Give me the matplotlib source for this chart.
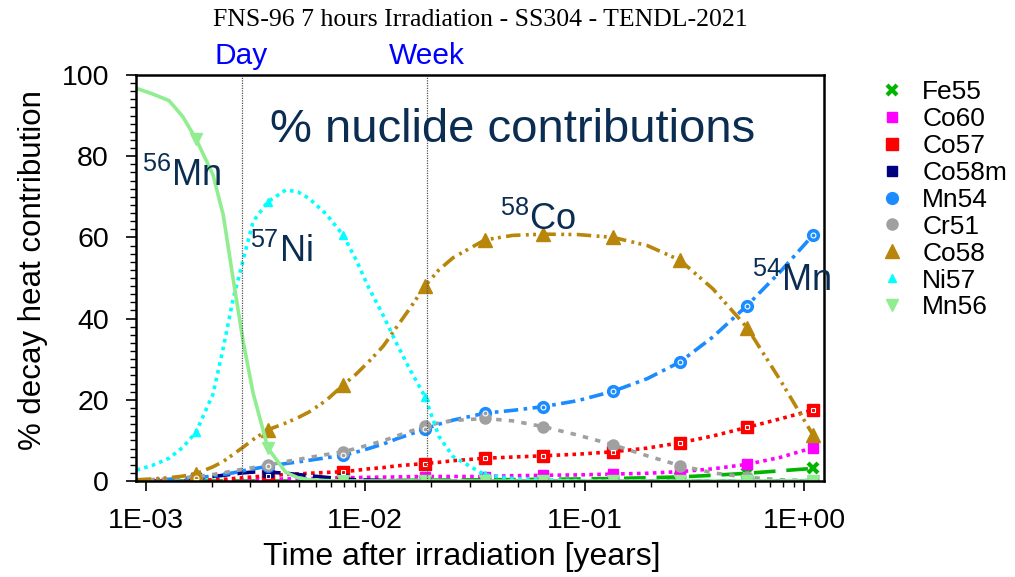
import matplotlib
matplotlib.use('Agg')
import matplotlib.pyplot as plt
from matplotlib.lines import Line2D
from matplotlib.ticker import LogLocator, MultipleLocator, FixedLocator
import numpy as np

plt.rcParams['font.family'] = ['Liberation Sans', 'DejaVu Sans']
plt.rcParams['mathtext.fontset'] = 'custom'
plt.rcParams['mathtext.rm'] = 'Liberation Sans'
plt.rcParams['mathtext.it'] = 'Liberation Sans:italic'

# cooling time grid [years]
times = [9.1e-4, 1.07e-3, 1.28e-3, 1.48e-3, 1.70e-3, 2.03e-3, 2.26e-3, 2.50e-3,
         2.78e-3, 3.09e-3, 3.61e-3, 4.36e-3, 4.95e-3, 5.56e-3, 6.64e-3, 7.94e-3,
         9.1e-3, 1.04e-2, 1.21e-2, 1.38e-2, 1.60e-2, 1.875e-2, 2.17e-2, 2.52e-2,
         3.52e-2, 4.72e-2, 6.47e-2, 9.33e-2, 0.135, 0.193, 0.272, 0.385, 0.550,
         0.778, 1.10]
# indices of the time steps that carry markers
marker_idx = [4, 10, 15, 21, 24, 26, 28, 30, 32, 34]

fe55 = [0.0, 0.0, 0.0, 0.0, 0.0, 0.0, 0.0, 0.0, 0.0, 0.0, 0.0, 0.0, 0.0, 0.0, 0.0,
        0.05, 0.07, 0.1, 0.12, 0.15, 0.18, 0.2, 0.22, 0.25, 0.3,
        0.35, 0.4, 0.5, 0.6, 0.8, 1.0, 1.4, 1.9, 2.5, 3.1]
co60 = [0.0, 0.02, 0.05, 0.08, 0.1, 0.15, 0.2, 0.25, 0.3, 0.35, 0.4, 0.5, 0.55, 0.6, 0.7,
        0.8, 0.85, 0.9, 0.95, 1.0, 1.05, 1.1, 1.1, 1.1, 1.1,
        1.3, 1.4, 1.5, 1.7, 1.9, 2.3, 3.0, 4.1, 5.8, 8.2]
co57 = [0.0, 0.02, 0.05, 0.08, 0.1, 0.3, 0.4, 0.6, 0.8, 1.0, 1.3, 1.6, 1.75, 1.9, 2.1,
        2.3, 2.6, 3.0, 3.3, 3.7, 4.0, 4.3, 4.6, 5.0, 5.6,
        5.9, 6.2, 6.6, 7.2, 8.1, 9.4, 11.1, 13.2, 15.3, 17.5]
co58m = [0.1, 0.2, 0.3, 0.5, 0.7, 1.1, 1.4, 1.7, 2.0, 2.2, 2.2, 1.9, 1.6, 1.3, 0.9,
         0.5, 0.3, 0.2, 0.1, 0.05, 0.02, 0.0, 0.0, 0.0, 0.0,
         0.0, 0.0, 0.0, 0.0, 0.0, 0.0, 0.0, 0.0, 0.0, 0.0]
mn54 = [0.2, 0.3, 0.4, 0.6, 0.8, 1.2, 1.6, 2.0, 2.5, 3.0, 3.6, 4.3, 4.7, 5.1, 5.7,
        6.3, 7.1, 8.0, 9.1, 10.3, 11.5, 12.8, 14.0, 15.0, 16.7,
        17.4, 18.3, 19.8, 22.1, 25.2, 29.3, 35.5, 43.2, 51.5, 60.6]
cr51 = [0.2, 0.35, 0.5, 0.8, 1.1, 1.6, 2.0, 2.5, 2.9, 3.3, 3.9, 4.8, 5.3, 5.8, 6.5,
        7.2, 8.0, 8.9, 9.9, 11.0, 12.2, 13.5, 14.3, 14.9, 15.4,
        14.8, 13.4, 11.3, 8.9, 6.2, 3.8, 2.0, 0.9, 0.3, 0.1]
co58 = [0.3, 0.5, 0.8, 1.2, 1.8, 3.5, 4.8, 6.5, 8.3, 10.2, 12.6, 14.3, 15.6, 17.0, 19.8,
        23.6, 26.3, 29.4, 33.2, 37.6, 42.5, 48.0, 52.0, 55.0, 59.4,
        60.5, 60.8, 60.7, 60.0, 58.0, 54.4, 47.3, 37.8, 24.9, 11.3]
ni57 = [2.7, 3.8, 5.6, 8.3, 12.1, 21.4, 32.8, 44.5, 54.3, 63.9, 68.8, 71.7, 71.2, 69.6, 65.8,
        60.6, 54.5, 47.6, 40.8, 34.3, 27.5, 20.8, 11.0, 6.0, 1.5,
        0.6, 0.3, 0.1, 0.0, 0.0, 0.0, 0.0, 0.0, 0.0, 0.0]
mn56 = [96.7, 95.4, 93.7, 89.7, 84.2, 75.4, 65.5, 50.2, 34.6, 21.7, 8.1, 2.1, 0.8, 0.3, 0.1,
        0.0, 0.0, 0.0, 0.0, 0.0, 0.0, 0.0, 0.0, 0.0, 0.0,
        0.0, 0.0, 0.0, 0.0, 0.0, 0.0, 0.0, 0.0, 0.0, 0.0]

day = 1 / 365.25
week = 7 / 365.25

# name, values, color, linestyle, marker, markersize
series = [
    ('Fe55', fe55, '#00b400', (0, (6, 3)), 'x', 7),
    ('Co60', co60, '#ff00ff', (0, (1, 1.2)), 's', 7),
    ('Co57', co57, '#ff0000', (0, (1, 1.2)), 's', 8),
    ('Co58m', co58m, '#000080', (0, (5, 2)), 's', 7),
    ('Mn54', mn54, '#1a8cff', (0, (4, 1.5, 1, 1.5)), 'o', 8.5),
    ('Cr51', cr51, '#a0a0a0', (0, (1.5, 2)), 'o', 8),
    ('Co58', co58, '#b8860b', (0, (4, 1.5, 0.8, 1.2, 0.8, 1.5)), '^', 10),
    ('Ni57', ni57, '#00ffff', (0, (1, 1.2)), '^', 6),
    ('Mn56', mn56, '#90ee90', '-', 'v', 9),
]

fig = plt.figure(figsize=(10.15, 5.77), dpi=100)
ax = fig.add_axes([0.134, 0.1664, 0.6778, 0.7036])

handles = []
for name, vals, col, ls, mk, ms in series:
    mew = 3 if mk == 'x' else 1
    ax.plot(times, vals, color=col, ls=ls, lw=2.6, marker=mk, ms=ms,
            markevery=marker_idx, mec=col, mfc=col, mew=mew)
    handles.append(Line2D([], [], ls='none', marker=mk, ms=ms, color=col,
                          mec=col, mew=mew, label=name))

# white centres of the Co57 / Mn54 symbols
ax.plot([times[i] for i in marker_idx], [co57[i] for i in marker_idx], ls='none',
        marker='s', ms=3.5, mfc='none', mec='white', mew=0.8)
ax.plot([times[i] for i in marker_idx], [mn54[i] for i in marker_idx], ls='none',
        marker='o', ms=3.5, mfc='none', mec='white', mew=0.8)

ax.axvline(day, color='#555555', lw=0.9, ls=(0, (1, 1)))
ax.axvline(week, color='#555555', lw=0.9, ls=(0, (1, 1)))
ax.text(day, 1.012, 'Day', transform=ax.get_xaxis_transform(), ha='center',
        va='bottom', color='#0000ff', fontsize=21.5)
ax.text(week, 1.012, 'Week', transform=ax.get_xaxis_transform(), ha='center',
        va='bottom', color='#0000ff', fontsize=21.5)

ax.set_xscale('log')
ax.set_xlim(9.05e-4, 1.233)
ax.set_ylim(0, 100)
ax.xaxis.set_major_locator(FixedLocator([1e-3, 1e-2, 1e-1, 1e0]))
ax.xaxis.set_minor_locator(LogLocator(base=10, subs=np.arange(2, 10)))
ax.set_xticklabels(['1E-03', '1E-02', '1E-01', '1E+00'])
ax.yaxis.set_major_locator(MultipleLocator(20))
ax.yaxis.set_minor_locator(MultipleLocator(2))
ax.tick_params(which='major', direction='out', length=7.5, width=1.2,
               labelsize=20.5, pad=12)
ax.tick_params(which='minor', direction='out', length=4, width=1.0)
for sp in ax.spines.values():
    sp.set_linewidth(1.8)

ax.set_xlabel('Time after irradiation [years]', fontsize=23, labelpad=6, x=0.474)
ax.set_ylabel('% decay heat contribution', fontsize=22.5, labelpad=10, y=0.52)

navy = '#0b2d52'
ax.text(0.548, 0.865, '% nuclide contributions', transform=ax.transAxes,
        ha='center', va='center', fontsize=34, color=navy)
ax.text(0.009, 0.751, r'$^{56}$Mn', transform=ax.transAxes, ha='left',
        va='center', fontsize=26, color=navy)
ax.text(0.166, 0.564, r'$^{57}$Ni', transform=ax.transAxes, ha='left',
        va='center', fontsize=26, color=navy)
ax.text(0.529, 0.643, r'$^{58}$Co', transform=ax.transAxes, ha='left',
        va='center', fontsize=26, color=navy)
ax.text(0.895, 0.494, r'$^{54}$Mn', transform=ax.transAxes, ha='left',
        va='center', fontsize=26, color=navy, clip_on=False)

fig.suptitle('FNS-96 7 hours Irradiation - SS304 - TENDL-2021', x=0.473, y=0.985,
             fontsize=18.5, family='Liberation Serif')

fig.legend(handles=handles, loc='upper left', bbox_to_anchor=(0.866, 0.861),
           frameon=False, fontsize=19, handlelength=1.0, handletextpad=0.64,
           labelspacing=0.11, borderpad=0, borderaxespad=0)

fig.savefig('out.png', dpi=100)
